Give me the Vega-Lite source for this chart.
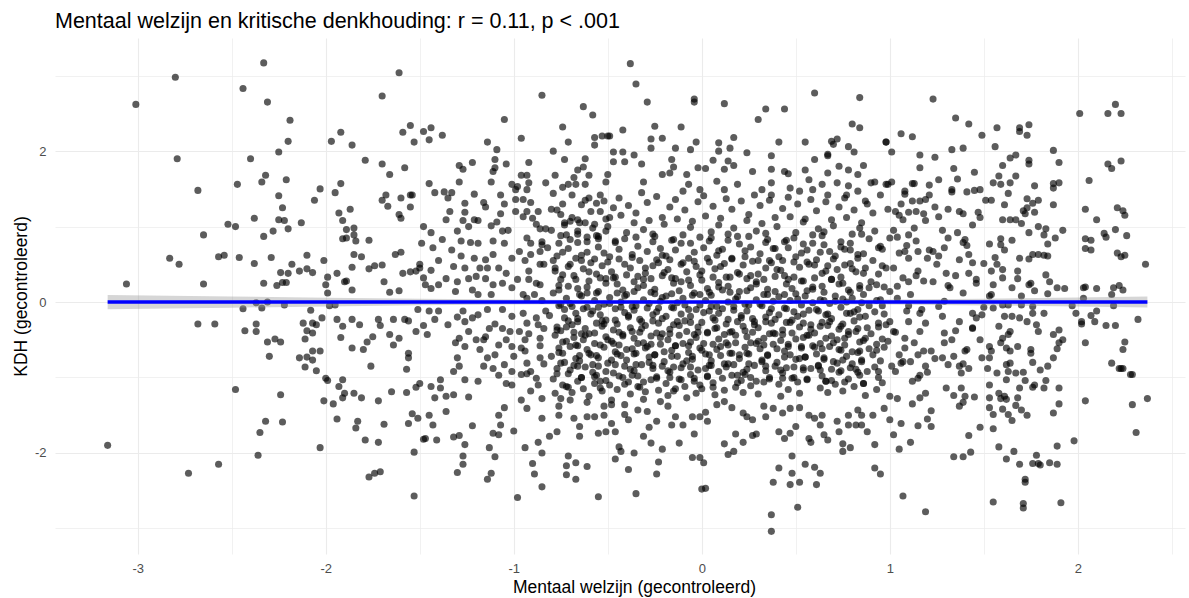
{
  "$schema": "https://vega.github.io/schema/vega-lite/v6.json",
  "description": "Mentaal welzijn vs kritische denkhouding",
  "width": 1130,
  "height": 516,
  "autosize": {"type": "none"},
  "padding": {"left": 55, "top": 38, "right": 4, "bottom": 44},
  "background": "white",
  "title": {
    "text": "Mentaal welzijn en kritische denkhouding: r = 0.11, p < .001",
    "anchor": "start",
    "frame": "group",
    "font": "Liberation Sans",
    "fontSize": 21.5,
    "fontWeight": "normal",
    "color": "black",
    "offset": 6
  },
  "config": {
    "view": {"stroke": null},
    "axis": {
      "domain": false,
      "ticks": false,
      "gridColor": "#EBEBEB",
      "labelFont": "Liberation Sans",
      "labelFontSize": 13,
      "labelColor": "#4D4D4D",
      "titleFont": "Liberation Sans",
      "titleFontSize": 17.5,
      "titleFontWeight": "normal",
      "titleColor": "black"
    }
  },
  "datasets": {
    "pts": [
      {"x":-2.33,"y":3.17},{"x":-2.80,"y":2.98},{"x":-3.01,"y":2.62},{"x":-2.44,"y":2.83},{"x":-2.31,"y":2.65},{"x":-2.19,"y":2.41},{"x":-2.20,"y":2.13},{"x":-1.97,"y":2.13},{"x":-1.92,"y":2.25},{"x":-2.25,"y":1.99},
      {"x":-2.79,"y":1.90},{"x":-2.40,"y":1.90},{"x":-2.32,"y":1.68},{"x":-2.34,"y":1.59},{"x":-2.21,"y":1.62},{"x":-2.47,"y":1.56},{"x":-2.68,"y":1.48},{"x":-2.03,"y":1.50},{"x":-1.95,"y":1.45},{"x":-1.92,"y":1.57},
      {"x":-2.06,"y":1.35},{"x":-2.25,"y":1.41},{"x":-2.23,"y":1.25},{"x":-2.25,"y":1.09},{"x":-2.22,"y":1.08},{"x":-2.38,"y":1.11},{"x":-2.13,"y":1.05},{"x":-2.52,"y":1.03},{"x":-2.48,"y":1.00},{"x":-2.20,"y":0.97},
      {"x":-2.28,"y":0.94},{"x":-2.33,"y":0.87},{"x":-2.65,"y":0.89},{"x":-1.93,"y":1.18},{"x":-1.91,"y":1.08},{"x":-1.91,"y":0.84},{"x":-2.83,"y":0.58},{"x":-2.78,"y":0.50},{"x":-2.57,"y":0.60},{"x":-2.54,"y":0.62},
      {"x":-2.46,"y":0.59},{"x":-2.38,"y":0.51},{"x":-2.29,"y":0.59},{"x":-2.18,"y":0.50},{"x":-2.10,"y":0.62},{"x":-2.01,"y":0.55},{"x":-2.14,"y":0.41},{"x":-2.10,"y":0.44},{"x":-2.07,"y":0.39},{"x":-2.24,"y":0.39},
      {"x":-2.20,"y":0.38},{"x":-2.23,"y":0.26},{"x":-2.26,"y":0.22},{"x":-2.21,"y":0.26},{"x":-2.33,"y":0.25},{"x":-2.65,"y":0.24},{"x":-3.06,"y":0.24},{"x":-1.99,"y":0.33},{"x":-2.00,"y":0.23},{"x":-1.94,"y":0.38},
      {"x":-1.99,"y":0.12},{"x":-2.37,"y":-0.01},{"x":-2.31,"y":0.00},{"x":-2.34,"y":-0.08},{"x":-2.44,"y":-0.09},{"x":-2.22,"y":-0.04},{"x":-1.98,"y":-0.05},{"x":-1.95,"y":-0.04},{"x":-2.08,"y":-0.11},{"x":-2.02,"y":-0.21},
      {"x":-1.94,"y":-0.23},{"x":-1.91,"y":-0.32},{"x":-1.92,"y":-0.47},{"x":-2.68,"y":-0.29},{"x":-2.59,"y":-0.29},{"x":-2.37,"y":-0.29},{"x":-2.37,"y":-0.39},{"x":-2.43,"y":-0.38},{"x":-2.12,"y":-0.28},{"x":-2.07,"y":-0.28},
      {"x":-2.05,"y":-0.30},{"x":-2.10,"y":-0.38},{"x":-2.07,"y":-0.41},{"x":-2.11,"y":-0.49},{"x":-2.31,"y":-0.53},{"x":-2.27,"y":-0.49},{"x":-2.24,"y":-0.53},{"x":-2.30,"y":-0.72},{"x":-2.07,"y":-0.65},{"x":-2.03,"y":-0.65},
      {"x":-2.14,"y":-0.74},{"x":-2.10,"y":-0.73},{"x":-2.07,"y":-0.77},{"x":-2.11,"y":-0.86},{"x":-2.05,"y":-0.91},{"x":-2.00,"y":-1.01},{"x":-1.99,"y":-1.04},{"x":-1.91,"y":-1.03},{"x":-1.93,"y":-1.12},{"x":-1.91,"y":-1.27},
      {"x":-2.01,"y":-1.31},{"x":-1.96,"y":-1.35},{"x":-2.48,"y":-1.16},{"x":-2.24,"y":-1.23},{"x":-1.94,"y":-1.55},{"x":-2.32,"y":-1.58},{"x":-2.23,"y":-1.59},{"x":-2.35,"y":-1.73},{"x":-2.03,"y":-1.93},{"x":-3.16,"y":-1.90},
      {"x":-2.36,"y":-2.03},{"x":-2.57,"y":-2.15},{"x":-2.73,"y":-2.27},{"x":-1.90,"y":0.27},

      {"x":-1.61,"y":3.04},{"x":-1.70,"y":2.73},{"x":-0.85,"y":2.74},{"x":-1.05,"y":2.42},{"x":-0.63,"y":2.59},{"x":-0.58,"y":2.48},{"x":-1.59,"y":2.25},{"x":-1.55,"y":2.34},{"x":-1.53,"y":2.12},{"x":-1.48,"y":2.26},
      {"x":-1.44,"y":2.31},{"x":-1.45,"y":2.15},{"x":-1.38,"y":2.21},{"x":-1.86,"y":2.08},{"x":-1.14,"y":2.12},{"x":-1.09,"y":2.02},{"x":-0.96,"y":2.17},{"x":-0.74,"y":2.32},{"x":-0.71,"y":2.12},{"x":-0.79,"y":2.00},
      {"x":-0.73,"y":1.89},{"x":-0.57,"y":2.18},{"x":-0.53,"y":2.20},{"x":-0.50,"y":2.20},{"x":-0.57,"y":2.08},{"x":-1.79,"y":1.88},{"x":-1.70,"y":1.83},{"x":-1.58,"y":1.78},{"x":-1.66,"y":1.69},{"x":-1.29,"y":1.81},
      {"x":-1.27,"y":1.76},{"x":-1.22,"y":1.85},{"x":-1.10,"y":1.89},{"x":-1.10,"y":1.78},{"x":-1.04,"y":1.83},{"x":-0.92,"y":1.85},{"x":-1.11,"y":1.73},{"x":-1.12,"y":1.59},{"x":-1.29,"y":1.59},{"x":-1.45,"y":1.57},
      {"x":-1.42,"y":1.45},{"x":-1.37,"y":1.46},{"x":-1.33,"y":1.45},{"x":-1.35,"y":1.38},{"x":-1.21,"y":1.43},{"x":-1.68,"y":1.42},{"x":-1.70,"y":1.35},{"x":-1.67,"y":1.27},{"x":-1.60,"y":1.38},{"x":-1.55,"y":1.42},
      {"x":-1.54,"y":1.42},{"x":-1.55,"y":1.26},{"x":-1.61,"y":1.16},{"x":-1.60,"y":1.11},{"x":-1.87,"y":1.23},{"x":-1.16,"y":1.32},{"x":-1.07,"y":1.42},{"x":-1.05,"y":1.30},{"x":-1.26,"y":1.31},{"x":-1.26,"y":1.19},
      {"x":-1.34,"y":1.20},{"x":-1.36,"y":1.09},{"x":-1.27,"y":1.08},{"x":-1.21,"y":1.09},{"x":-1.19,"y":1.08},{"x":-1.24,"y":1.00},{"x":-1.30,"y":0.94},{"x":-1.15,"y":1.26},{"x":-1.07,"y":1.17},{"x":-1.09,"y":1.06},
      {"x":-1.12,"y":1.01},{"x":-1.06,"y":0.94},{"x":-1.03,"y":0.95},{"x":-0.98,"y":1.53},{"x":-0.99,"y":1.49},{"x":-1.01,"y":1.56},{"x":-0.96,"y":1.68},{"x":-0.93,"y":1.68},{"x":-0.92,"y":1.58},{"x":-0.93,"y":1.49},
      {"x":-0.99,"y":1.36},{"x":-0.95,"y":1.36},{"x":-0.91,"y":1.32},{"x":-0.99,"y":1.20},{"x":-0.93,"y":1.20},{"x":-0.95,"y":1.13},{"x":-0.90,"y":1.11},{"x":-0.88,"y":1.03},{"x":-0.86,"y":0.97},{"x":-0.83,"y":0.97},
      {"x":-0.83,"y":1.58},{"x":-0.79,"y":1.44},{"x":-0.80,"y":1.23},{"x":-0.78,"y":1.68},{"x":-0.74,"y":1.52},{"x":-0.71,"y":1.56},{"x":-0.68,"y":1.65},{"x":-0.66,"y":1.75},{"x":-0.63,"y":1.79},{"x":-0.62,"y":1.90},
      {"x":-0.60,"y":1.68},{"x":-0.67,"y":1.56},{"x":-0.62,"y":1.56},{"x":-0.69,"y":1.42},{"x":-0.64,"y":1.29},{"x":-0.60,"y":1.38},{"x":-0.56,"y":1.31},{"x":-0.52,"y":1.34},{"x":-0.50,"y":1.69},{"x":-0.51,"y":1.59},
      {"x":-0.54,"y":1.20},{"x":-0.49,"y":1.12},{"x":-0.57,"y":1.03},{"x":-0.62,"y":1.05},{"x":-0.66,"y":1.09},{"x":-0.70,"y":1.07},{"x":-0.73,"y":1.05},{"x":-0.75,"y":1.16},{"x":-0.72,"y":0.89},{"x":-0.66,"y":0.94},
      {"x":-0.61,"y":0.86},{"x":-0.55,"y":0.87},{"x":-0.51,"y":0.94},{"x":-1.85,"y":0.98},{"x":-1.89,"y":0.96},{"x":-1.85,"y":0.89},{"x":-1.89,"y":0.85},{"x":-1.84,"y":0.81},{"x":-1.77,"y":0.82},{"x":-1.85,"y":0.63},
      {"x":-1.81,"y":0.60},{"x":-1.86,"y":0.46},{"x":-1.74,"y":0.48},{"x":-1.77,"y":0.44},{"x":-1.70,"y":0.49},{"x":-1.63,"y":0.63},{"x":-1.60,"y":0.66},{"x":-1.86,"y":0.16},{"x":-1.89,"y":0.28},{"x":-1.69,"y":0.27},
      {"x":-1.66,"y":0.13},{"x":-1.61,"y":0.15},{"x":-1.59,"y":0.38},{"x":-1.55,"y":0.40},{"x":-1.52,"y":0.41},{"x":-1.50,"y":0.45},{"x":-1.50,"y":0.50},{"x":-1.48,"y":0.32},{"x":-1.47,"y":0.23},{"x":-1.44,"y":0.42},
      {"x":-1.44,"y":0.18},{"x":-1.40,"y":0.23},{"x":-1.36,"y":0.31},{"x":-1.40,"y":0.55},{"x":-1.38,"y":0.83},{"x":-1.43,"y":0.72},{"x":-1.44,"y":0.92},{"x":-1.49,"y":0.78},{"x":-1.48,"y":1.00},{"x":-1.33,"y":0.69},
      {"x":-1.32,"y":0.47},{"x":-1.28,"y":0.81},{"x":-1.28,"y":0.61},{"x":-1.26,"y":0.45},{"x":-1.23,"y":0.79},{"x":-1.19,"y":0.78},{"x":-1.21,"y":0.58},{"x":-1.18,"y":0.45},{"x":-1.15,"y":0.56},{"x":-1.14,"y":0.45},
      {"x":-1.11,"y":0.63},{"x":-1.11,"y":0.81},{"x":-1.05,"y":0.78},{"x":-1.08,"y":0.45},{"x":-1.04,"y":0.38},{"x":-1.06,"y":0.25},{"x":-1.11,"y":0.23},{"x":-1.15,"y":0.31},{"x":-1.20,"y":0.34},{"x":-1.24,"y":0.31},
      {"x":-1.30,"y":0.27},{"x":-1.31,"y":0.14},{"x":-1.22,"y":0.16},{"x":-1.19,"y":0.10},{"x":-1.12,"y":0.10},{"x":-1.01,"y":0.58},{"x":-0.97,"y":0.67},{"x":-0.98,"y":0.30},{"x":-1.01,"y":0.19},{"x":-0.95,"y":0.10},
      {"x":-0.92,"y":0.41},{"x":-0.91,"y":0.63},{"x":-0.86,"y":0.67},{"x":-0.91,"y":0.78},{"x":-0.85,"y":0.76},{"x":-0.82,"y":0.72},{"x":-0.84,"y":0.50},{"x":-0.78,"y":0.45},{"x":-0.86,"y":0.23},{"x":-0.89,"y":0.10},
      {"x":-1.86,"y":-0.23},{"x":-1.82,"y":-0.30},{"x":-1.72,"y":-0.23},{"x":-1.71,"y":-0.31},{"x":-1.64,"y":-0.23},{"x":-1.58,"y":-0.23},{"x":-1.56,"y":-0.25},{"x":-1.52,"y":-0.39},{"x":-1.48,"y":-0.31},{"x":-1.46,"y":-0.43},
      {"x":-1.66,"y":-0.43},{"x":-1.75,"y":-0.46},{"x":-1.78,"y":-0.53},{"x":-1.64,"y":-0.57},{"x":-1.61,"y":-0.48},{"x":-1.80,"y":-0.63},{"x":-1.86,"y":-0.61},{"x":-1.56,"y":-0.68},{"x":-1.56,"y":-0.74},{"x":-1.76,"y":-0.85},
      {"x":-1.57,"y":-0.89},{"x":-1.90,"y":-1.21},{"x":-1.85,"y":-1.21},{"x":-1.81,"y":-1.27},{"x":-1.72,"y":-1.31},{"x":-1.65,"y":-1.19},{"x":-1.57,"y":-1.20},{"x":-1.52,"y":-1.13},{"x":-1.50,"y":-1.08},{"x":-1.44,"y":-1.12},
      {"x":-1.39,"y":-1.03},{"x":-1.39,"y":-1.14},{"x":-1.42,"y":-1.27},{"x":-1.36,"y":-1.25},{"x":-1.32,"y":-1.23},{"x":-1.24,"y":-1.26},{"x":-1.36,"y":-1.45},{"x":-1.54,"y":-1.48},{"x":-1.51,"y":-1.54},{"x":-1.56,"y":-1.61},
      {"x":-1.45,"y":-1.50},{"x":-1.43,"y":-1.63},{"x":-1.69,"y":-1.62},{"x":-1.83,"y":-1.58},{"x":-1.84,"y":-1.67},{"x":-1.79,"y":-1.83},{"x":-1.72,"y":-1.86},{"x":-1.48,"y":-1.82},{"x":-1.47,"y":-1.81},{"x":-1.41,"y":-1.83},
      {"x":-1.53,"y":-1.99},{"x":-1.32,"y":-1.79},{"x":-1.29,"y":-1.77},{"x":-1.26,"y":-1.89},{"x":-1.27,"y":-2.04},{"x":-1.27,"y":-2.15},{"x":-1.30,"y":-2.26},{"x":-1.22,"y":-1.64},{"x":-1.77,"y":-2.32},{"x":-1.74,"y":-2.27},
      {"x":-1.71,"y":-2.25},{"x":-1.53,"y":-2.57},{"x":-1.13,"y":-1.93},{"x":-1.10,"y":-2.05},{"x":-1.14,"y":-2.35},{"x":-1.12,"y":-2.27},{"x":-1.11,"y":-1.74},{"x":-1.08,"y":-1.76},{"x":-1.07,"y":-1.63},{"x":-1.00,"y":-1.71},
      {"x":-0.98,"y":-2.59},{"x":-0.94,"y":-1.93},{"x":-0.90,"y":-2.14},{"x":-0.89,"y":-2.28},{"x":-0.87,"y":-1.86},{"x":-0.85,"y":-2.00},{"x":-0.85,"y":-2.45},{"x":-0.81,"y":-1.78},{"x":-0.77,"y":-1.72},{"x":-0.71,"y":-2.04},
      {"x":-0.72,"y":-2.17},{"x":-0.72,"y":-2.29},{"x":-0.67,"y":-2.13},{"x":-0.67,"y":-2.35},{"x":-0.61,"y":-2.18},{"x":-0.55,"y":-2.58},{"x":-0.55,"y":-1.74},{"x":-0.65,"y":-1.78},{"x":-0.65,"y":-1.65},{"x":-0.61,"y":-1.52},
      {"x":-0.57,"y":-1.52},{"x":-0.52,"y":-1.50},{"x":-0.51,"y":-1.72},{"x":-0.93,"y":-1.41},{"x":-0.96,"y":-1.30},{"x":-1.05,"y":-1.40},{"x":-1.08,"y":-1.50},{"x":-0.85,"y":-1.54},{"x":-0.76,"y":-1.50},{"x":-0.76,"y":-1.38},
      {"x":-0.70,"y":-1.30},{"x":-0.68,"y":-1.54},{"x":-1.35,"y":-0.30},{"x":-1.30,"y":-0.20},{"x":-1.27,"y":-0.12},{"x":-1.26,"y":-0.26},{"x":-1.22,"y":-0.21},{"x":-1.24,"y":-0.39},{"x":-1.29,"y":-0.48},{"x":-1.31,"y":-0.54},
      {"x":-1.26,"y":-0.59},{"x":-1.20,"y":-0.50},{"x":-1.16,"y":-0.50},{"x":-1.18,"y":-0.63},{"x":-1.15,"y":-0.46},{"x":-1.13,"y":-0.35},{"x":-1.10,"y":-0.29},{"x":-1.06,"y":-0.35},{"x":-1.02,"y":-0.39},{"x":-1.04,"y":-0.50},
      {"x":-1.08,"y":-0.57},{"x":-1.10,"y":-0.70},{"x":-1.14,"y":-0.74},{"x":-1.16,"y":-0.85},{"x":-1.11,"y":-0.88},{"x":-1.05,"y":-0.83},{"x":-1.30,"y":-0.74},{"x":-1.29,"y":-0.85},{"x":-1.32,"y":-0.92},{"x":-1.26,"y":-1.03},
      {"x":-1.19,"y":-1.05},{"x":-1.08,"y":-0.97},{"x":-1.04,"y":-1.08},{"x":-1.01,"y":-1.10},{"x":-1.01,"y":-0.92},{"x":-1.00,"y":-0.72},{"x":-1.01,"y":-0.59},{"x":-0.96,"y":-0.61},{"x":-0.94,"y":-0.50},{"x":-0.97,"y":-0.39},
      {"x":-0.93,"y":-0.28},{"x":-1.01,"y":-0.19},{"x":-1.06,"y":-0.10},{"x":-1.14,"y":-0.10},{"x":-1.19,"y":-0.17},{"x":-1.40,"y":-0.12},{"x":-1.45,"y":-0.12},{"x":-1.51,"y":-0.10},{"x":-1.42,"y":-0.23},{"x":-0.93,"y":-0.81},
      {"x":-0.91,"y":-0.92},{"x":-0.88,"y":-1.01},{"x":-0.96,"y":-0.96},{"x":-0.86,"y":-0.74},{"x":-0.86,"y":-0.48},{"x":-0.84,"y":-0.35},{"x":-0.88,"y":-0.21},{"x":-0.83,"y":-0.12},

      {"x":-0.38,"y":3.16},{"x":-0.35,"y":2.89},{"x":-0.29,"y":2.65},{"x":-0.04,"y":2.65},{"x":-0.04,"y":2.69},{"x":0.12,"y":2.63},{"x":0.34,"y":2.56},{"x":0.44,"y":2.56},{"x":0.30,"y":2.42},{"x":0.60,"y":2.77},
      {"x":0.84,"y":2.71},{"x":0.80,"y":2.36},{"x":0.84,"y":2.31},{"x":-0.42,"y":2.28},{"x":-0.25,"y":2.33},{"x":-0.11,"y":2.32},{"x":-0.27,"y":2.16},{"x":-0.21,"y":2.17},{"x":-0.27,"y":2.04},{"x":-0.14,"y":2.04},
      {"x":-0.06,"y":2.02},{"x":-0.03,"y":2.12},{"x":0.09,"y":2.11},{"x":0.15,"y":2.04},{"x":0.17,"y":2.18},{"x":0.09,"y":2.00},{"x":0.24,"y":1.98},{"x":0.41,"y":2.12},{"x":0.37,"y":1.94},{"x":0.55,"y":2.12},
      {"x":0.69,"y":2.13},{"x":0.72,"y":2.16},{"x":0.70,"y":2.09},{"x":0.78,"y":2.06},{"x":0.81,"y":1.99},{"x":0.67,"y":1.94},{"x":0.98,"y":2.12},{"x":-0.49,"y":2.20},{"x":-0.47,"y":1.99},{"x":-0.42,"y":1.99},
      {"x":-0.36,"y":1.95},{"x":-0.47,"y":1.86},{"x":-0.41,"y":1.86},{"x":-0.32,"y":1.83},{"x":-0.16,"y":1.89},{"x":-0.15,"y":1.79},{"x":-0.02,"y":1.78},{"x":0.02,"y":1.77},{"x":0.06,"y":1.88},{"x":0.12,"y":1.76},
      {"x":0.14,"y":1.87},{"x":0.17,"y":1.81},{"x":0.27,"y":1.73},{"x":0.37,"y":1.76},{"x":0.44,"y":1.73},{"x":0.46,"y":1.70},{"x":0.55,"y":1.75},{"x":0.60,"y":1.89},{"x":0.67,"y":1.96},{"x":0.67,"y":1.71},
      {"x":0.73,"y":1.80},{"x":0.78,"y":1.75},{"x":0.83,"y":1.69},{"x":0.86,"y":1.81},{"x":0.90,"y":1.58},{"x":0.92,"y":1.59},{"x":0.98,"y":1.56},{"x":-0.31,"y":1.59},{"x":-0.21,"y":1.69},{"x":-0.17,"y":1.71},
      {"x":-0.08,"y":1.69},{"x":-0.07,"y":1.56},{"x":-0.10,"y":1.47},{"x":-0.01,"y":1.49},{"x":0.08,"y":1.60},{"x":0.12,"y":1.49},{"x":0.19,"y":1.56},{"x":0.32,"y":1.49},{"x":0.37,"y":1.58},{"x":0.37,"y":1.42},
      {"x":0.47,"y":1.51},{"x":0.52,"y":1.47},{"x":0.57,"y":1.62},{"x":0.59,"y":1.49},{"x":0.64,"y":1.56},{"x":0.67,"y":1.42},{"x":0.72,"y":1.58},{"x":0.77,"y":1.42},{"x":0.78,"y":1.54},{"x":0.83,"y":1.47},
      {"x":0.87,"y":1.34},{"x":0.95,"y":1.42},
      {"x":-0.35,"y":-2.54},{"x":-0.39,"y":-2.22},{"x":-0.24,"y":-2.28},{"x":-0.23,"y":-2.12},{"x":-0.21,"y":-1.95},{"x":-0.36,"y":-2.00},{"x":-0.43,"y":-1.98},{"x":-0.46,"y":-2.08},{"x":-0.44,"y":-1.92},{"x":-0.27,"y":-1.87},
      {"x":-0.31,"y":-1.78},{"x":-0.12,"y":-1.87},{"x":-0.05,"y":-2.06},{"x":-0.01,"y":-2.06},{"x":0.01,"y":-2.13},{"x":0.00,"y":-2.48},{"x":0.02,"y":-2.47},{"x":0.12,"y":-1.88},{"x":0.14,"y":-2.02},{"x":0.17,"y":-1.98},
      {"x":0.18,"y":-1.75},{"x":0.22,"y":-1.86},{"x":0.27,"y":-1.77},{"x":0.29,"y":-1.75},{"x":0.38,"y":-2.39},{"x":0.41,"y":-2.20},{"x":0.48,"y":-2.04},{"x":0.48,"y":-2.27},{"x":0.47,"y":-2.42},{"x":0.52,"y":-2.39},
      {"x":0.37,"y":-2.82},{"x":0.37,"y":-3.04},{"x":0.51,"y":-2.72},{"x":0.55,"y":-2.15},{"x":0.60,"y":-2.19},{"x":0.63,"y":-2.27},{"x":0.61,"y":-2.42},{"x":0.41,"y":-1.72},{"x":0.44,"y":-1.81},{"x":0.47,"y":-1.74},
      {"x":0.50,"y":-1.65},{"x":0.57,"y":-1.81},{"x":0.58,"y":-1.86},{"x":0.65,"y":-1.76},{"x":0.67,"y":-1.83},{"x":0.75,"y":-1.98},{"x":0.79,"y":-1.93},{"x":0.75,"y":-1.88},{"x":0.92,"y":-2.20},{"x":0.95,"y":-2.28},
      {"x":0.92,"y":-1.89},{"x":0.85,"y":-1.63},{"x":0.88,"y":-1.72},{"x":0.78,"y":-1.63},{"x":0.82,"y":-1.63},{"x":0.73,"y":-1.72},{"x":0.63,"y":-1.63},{"x":-0.14,"y":-1.52},{"x":-0.04,"y":-1.75},{"x":0.03,"y":-1.58},
      {"x":-0.10,"y":-1.63},{"x":-0.16,"y":-1.63},{"x":-0.24,"y":-1.58},{"x":-0.28,"y":-1.66},{"x":-0.34,"y":-1.43},{"x":-0.39,"y":-1.56},{"x":-0.41,"y":-1.49},{"x":-0.48,"y":-1.61},{"x":-0.46,"y":-1.72},{"x":-0.48,"y":-1.36},
      {"x":-0.41,"y":-1.36},{"x":-0.29,"y":-1.45},{"x":-0.18,"y":-1.38},{"x":-0.05,"y":-1.52},{"x":-0.01,"y":-1.52},{"x":0.02,"y":-1.46},{"x":0.08,"y":-1.36},{"x":0.12,"y":-1.32},{"x":0.16,"y":-1.40},{"x":0.22,"y":-1.47},
      {"x":0.24,"y":-1.52},{"x":0.27,"y":-1.56},{"x":0.34,"y":-1.52},{"x":0.33,"y":-1.38},{"x":0.38,"y":-1.41},{"x":0.43,"y":-1.47},{"x":0.47,"y":-1.41},{"x":0.52,"y":-1.40},{"x":0.57,"y":-1.50},{"x":0.60,"y":-1.54},
      {"x":0.64,"y":-1.50},{"x":0.72,"y":-1.58},{"x":0.78,"y":-1.50},{"x":0.83,"y":-1.43},{"x":0.85,"y":-1.50},{"x":0.91,"y":-1.50},{"x":0.97,"y":-1.41},

      {"x":1.23,"y":2.69},{"x":1.35,"y":2.44},{"x":1.42,"y":2.36},{"x":1.06,"y":2.23},{"x":1.12,"y":2.19},{"x":0.98,"y":2.12},{"x":1.01,"y":1.99},{"x":1.49,"y":2.21},{"x":1.57,"y":2.31},{"x":1.69,"y":2.31},
      {"x":1.69,"y":2.26},{"x":1.74,"y":2.35},{"x":1.73,"y":2.21},{"x":2.01,"y":2.50},{"x":2.16,"y":2.50},{"x":2.20,"y":2.62},{"x":2.23,"y":2.50},{"x":1.56,"y":2.06},{"x":1.33,"y":2.02},{"x":1.39,"y":2.04},
      {"x":1.16,"y":1.95},{"x":1.24,"y":1.92},{"x":1.16,"y":1.78},{"x":1.34,"y":1.77},{"x":1.45,"y":1.72},{"x":1.36,"y":1.63},{"x":1.26,"y":1.62},{"x":1.21,"y":1.55},{"x":1.12,"y":1.57},{"x":1.13,"y":1.57},
      {"x":1.08,"y":1.47},{"x":1.08,"y":1.43},{"x":0.99,"y":1.56},{"x":1.01,"y":1.59},{"x":1.33,"y":1.49},{"x":1.33,"y":1.46},{"x":1.41,"y":1.46},{"x":1.45,"y":1.48},{"x":1.48,"y":1.49},{"x":1.55,"y":1.58},
      {"x":1.59,"y":1.56},{"x":1.58,"y":1.67},{"x":1.60,"y":1.81},{"x":1.64,"y":1.91},{"x":1.67,"y":1.95},{"x":1.64,"y":1.58},{"x":1.67,"y":1.67},{"x":1.63,"y":1.44},{"x":1.74,"y":1.88},{"x":1.74,"y":1.83},
      {"x":1.77,"y":1.54},{"x":1.87,"y":2.01},{"x":1.90,"y":1.85},{"x":1.87,"y":1.57},{"x":1.90,"y":1.58},{"x":1.87,"y":1.51},{"x":1.87,"y":1.29},{"x":2.06,"y":1.61},{"x":2.16,"y":1.83},{"x":2.18,"y":1.77},
      {"x":2.23,"y":1.87},{"x":1.51,"y":1.35},{"x":1.54,"y":1.35},{"x":1.61,"y":1.29},{"x":1.73,"y":1.37},{"x":1.73,"y":1.25},{"x":1.76,"y":1.31},{"x":1.79,"y":1.35},{"x":1.77,"y":1.19},{"x":1.71,"y":1.21},
      {"x":1.72,"y":1.17},{"x":2.04,"y":1.23},{"x":2.10,"y":1.09},{"x":2.21,"y":1.25},{"x":2.24,"y":1.21},{"x":2.25,"y":1.15},{"x":1.31,"y":1.23},{"x":1.37,"y":1.20},{"x":1.39,"y":1.17},{"x":1.47,"y":1.19},
      {"x":1.48,"y":1.12},{"x":1.44,"y":1.02},{"x":1.26,"y":1.13},{"x":1.24,"y":1.26},{"x":1.21,"y":1.42},{"x":1.19,"y":1.36},{"x":1.16,"y":1.34},{"x":1.12,"y":1.34},{"x":1.14,"y":1.20},{"x":1.18,"y":1.17},
      {"x":1.19,"y":1.08},{"x":1.10,"y":1.19},{"x":1.07,"y":1.09},{"x":1.05,"y":1.15},{"x":1.03,"y":1.20},{"x":0.99,"y":1.23},{"x":1.60,"y":1.09},{"x":1.64,"y":1.09},{"x":1.67,"y":1.09},{"x":1.70,"y":1.04},
      {"x":1.65,"y":0.82},{"x":1.59,"y":0.84},{"x":1.59,"y":0.76},{"x":1.61,"y":0.69},{"x":1.53,"y":0.77},{"x":1.74,"y":0.92},{"x":1.79,"y":1.00},{"x":1.83,"y":0.97},{"x":1.82,"y":0.89},{"x":1.84,"y":0.77},
      {"x":1.88,"y":0.85},{"x":1.92,"y":0.95},{"x":1.79,"y":0.63},{"x":1.76,"y":0.63},{"x":1.74,"y":0.57},{"x":1.69,"y":0.58},{"x":1.82,"y":0.62},{"x":1.84,"y":0.61},{"x":2.04,"y":0.84},{"x":2.04,"y":0.71},
      {"x":2.07,"y":0.69},{"x":2.07,"y":0.82},{"x":2.14,"y":0.91},{"x":2.15,"y":0.86},{"x":2.20,"y":0.96},{"x":2.26,"y":0.88},{"x":2.21,"y":0.65},{"x":2.23,"y":0.60},{"x":2.25,"y":0.62},{"x":2.36,"y":0.50},
      {"x":1.28,"y":0.95},{"x":1.31,"y":0.85},{"x":1.36,"y":0.92},{"x":1.40,"y":0.83},{"x":1.41,"y":0.75},{"x":1.39,"y":0.79},{"x":1.29,"y":0.72},{"x":1.23,"y":0.67},{"x":1.26,"y":0.61},{"x":1.20,"y":0.58},
      {"x":1.21,"y":0.69},{"x":1.15,"y":0.67},{"x":1.14,"y":0.81},{"x":1.10,"y":0.89},{"x":1.04,"y":0.86},{"x":1.00,"y":0.85},{"x":1.08,"y":0.67},{"x":1.05,"y":0.65},{"x":1.10,"y":0.58},{"x":1.37,"y":0.56},
      {"x":1.42,"y":0.63},{"x":1.44,"y":0.52},{"x":1.42,"y":0.38},{"x":1.35,"y":0.35},{"x":1.30,"y":0.38},{"x":1.25,"y":0.50},{"x":1.50,"y":0.51},{"x":1.56,"y":0.59},{"x":1.57,"y":0.50},{"x":1.60,"y":0.43},
      {"x":1.54,"y":0.41},{"x":1.60,"y":0.32},{"x":1.55,"y":0.23},{"x":1.54,"y":0.10},{"x":1.46,"y":0.25},{"x":1.46,"y":0.30},{"x":1.39,"y":0.12},{"x":1.31,"y":0.22},{"x":1.32,"y":0.19},{"x":1.29,"y":0.01},
      {"x":1.23,"y":0.27},{"x":1.18,"y":0.28},{"x":1.15,"y":0.41},{"x":1.10,"y":0.27},{"x":1.07,"y":0.32},{"x":1.04,"y":0.21},{"x":1.00,"y":0.14},{"x":1.65,"y":0.19},{"x":1.68,"y":0.31},{"x":1.68,"y":0.41},
      {"x":1.74,"y":0.23},{"x":1.75,"y":0.25},{"x":1.77,"y":0.15},{"x":1.83,"y":0.36},{"x":1.85,"y":0.27},{"x":1.89,"y":0.19},{"x":1.93,"y":0.18},{"x":1.84,"y":0.11},{"x":1.70,"y":0.08},{"x":2.03,"y":0.19},
      {"x":2.04,"y":0.20},{"x":2.10,"y":0.18},{"x":2.19,"y":0.19},{"x":2.22,"y":0.22},{"x":2.24,"y":0.16},{"x":2.18,"y":0.10},{"x":2.03,"y":0.05},{"x":1.97,"y":-0.05},{"x":1.99,"y":-0.15},{"x":2.02,"y":-0.26},
      {"x":2.02,"y":-0.29},{"x":2.07,"y":-0.18},{"x":2.10,"y":-0.12},{"x":2.09,"y":-0.26},{"x":2.15,"y":-0.31},{"x":2.20,"y":-0.31},{"x":2.19,"y":-0.05},{"x":2.32,"y":-0.23},{"x":2.04,"y":-0.54},{"x":2.25,"y":-0.53},
      {"x":2.24,"y":-0.63},{"x":2.18,"y":-0.81},{"x":2.22,"y":-0.88},{"x":2.23,"y":-0.88},{"x":2.24,"y":-0.88},{"x":2.28,"y":-0.96},{"x":2.29,"y":-0.96},{"x":2.04,"y":-1.31},{"x":2.29,"y":-1.36},{"x":2.37,"y":-1.28},
      {"x":2.31,"y":-1.73},{"x":1.98,"y":-1.84},{"x":1.89,"y":-1.91},{"x":1.91,"y":-2.66},{"x":1.90,"y":-1.14},{"x":1.90,"y":-1.35},{"x":1.87,"y":-1.47},{"x":1.83,"y":-1.04},{"x":1.82,"y":-1.14},{"x":1.77,"y":-1.10},
      {"x":1.76,"y":-1.13},{"x":1.69,"y":-1.14},{"x":1.72,"y":-1.04},{"x":1.71,"y":-0.93},{"x":1.76,"y":-0.80},{"x":1.80,"y":-0.90},{"x":1.84,"y":-0.85},{"x":1.87,"y":-0.74},{"x":1.89,"y":-0.62},{"x":1.90,"y":-0.54},
      {"x":1.92,"y":-0.50},{"x":1.87,"y":-0.43},{"x":1.90,"y":-0.37},{"x":1.75,"y":-0.63},{"x":1.75,"y":-0.68},{"x":1.68,"y":-0.59},{"x":1.64,"y":-0.65},{"x":1.62,"y":-0.61},{"x":1.64,"y":-0.39},{"x":1.63,"y":-0.43},
      {"x":1.60,"y":-0.48},{"x":1.59,"y":-0.54},{"x":1.58,"y":-0.32},{"x":1.61,"y":-0.19},{"x":1.65,"y":-0.19},{"x":1.69,"y":-0.21},{"x":1.73,"y":-0.26},{"x":1.76,"y":-0.15},{"x":1.78,"y":-0.30},{"x":1.79,"y":-0.39},
      {"x":1.82,"y":-0.15},{"x":1.76,"y":-0.06},{"x":1.70,"y":-0.04},{"x":1.63,"y":-0.04},{"x":1.60,"y":-0.04},{"x":1.53,"y":0.08},{"x":1.55,"y":-0.08},{"x":1.50,"y":-0.07},{"x":1.49,"y":-0.17},{"x":1.44,"y":-0.15},
      {"x":1.46,"y":-0.21},{"x":1.44,"y":-0.35},{"x":1.48,"y":-0.50},{"x":1.53,"y":-0.59},{"x":1.54,"y":-0.65},{"x":1.49,"y":-0.74},{"x":1.53,"y":-0.74},{"x":1.62,"y":-0.83},{"x":1.64,"y":-0.81},{"x":1.63,"y":-0.92},
      {"x":1.67,"y":-0.94},{"x":1.62,"y":-1.03},{"x":1.57,"y":-0.94},{"x":1.52,"y":-0.88},{"x":1.53,"y":-1.10},{"x":1.58,"y":-1.21},{"x":1.59,"y":-1.28},{"x":1.61,"y":-1.25},{"x":1.62,"y":-1.29},{"x":1.53,"y":-1.27},
      {"x":1.53,"y":-1.40},{"x":1.55,"y":-1.49},{"x":1.60,"y":-1.42},{"x":1.63,"y":-1.49},{"x":1.65,"y":-1.57},{"x":1.67,"y":-1.37},{"x":1.68,"y":-1.27},{"x":1.70,"y":-1.43},{"x":1.73,"y":-1.50},{"x":1.55,"y":-1.68},
      {"x":1.48,"y":-1.66},{"x":1.42,"y":-1.77},{"x":1.43,"y":-1.99},{"x":1.39,"y":-2.05},{"x":1.34,"y":-2.05},{"x":1.58,"y":-1.92},{"x":1.66,"y":-1.98},{"x":1.62,"y":-2.08},{"x":1.69,"y":-2.15},{"x":1.78,"y":-2.03},
      {"x":1.76,"y":-2.14},{"x":1.79,"y":-2.14},{"x":1.80,"y":-2.16},{"x":1.85,"y":-2.13},{"x":1.89,"y":-2.15},{"x":1.72,"y":-2.35},{"x":1.72,"y":-2.39},{"x":1.71,"y":-2.67},{"x":1.71,"y":-2.73},{"x":1.55,"y":-2.65},
      {"x":1.07,"y":-2.57},{"x":1.19,"y":-2.78},{"x":1.05,"y":-1.95},{"x":1.11,"y":-1.86},{"x":1.02,"y":-1.76},{"x":1.06,"y":-1.61},{"x":1.15,"y":-1.64},{"x":1.22,"y":-1.65},{"x":1.20,"y":-1.55},{"x":1.22,"y":-1.44},
      {"x":1.19,"y":-1.21},{"x":1.16,"y":-1.27},{"x":1.12,"y":-1.35},{"x":1.04,"y":-1.28},{"x":1.00,"y":-1.25},{"x":1.00,"y":-1.56},{"x":1.30,"y":-1.14},{"x":1.34,"y":-1.24},{"x":1.38,"y":-1.14},{"x":1.40,"y":-1.25},
      {"x":1.37,"y":-1.38},{"x":1.45,"y":-1.26},{"x":1.37,"y":-0.85},{"x":1.39,"y":-0.82},{"x":1.42,"y":-0.88},{"x":1.38,"y":-0.94},{"x":1.34,"y":-0.72},{"x":1.31,"y":-0.83},{"x":1.28,"y":-0.74},{"x":1.24,"y":-0.75},
      {"x":1.19,"y":-0.85},{"x":1.20,"y":-0.93},{"x":1.15,"y":-1.01},{"x":1.16,"y":-0.97},{"x":1.07,"y":-0.79},{"x":1.06,"y":-0.81},{"x":1.03,"y":-0.92},{"x":1.01,"y":-0.85},{"x":1.11,"y":-0.79},{"x":1.18,"y":-0.65},
      {"x":1.22,"y":-0.65},{"x":1.29,"y":-0.54},{"x":1.33,"y":-0.50},{"x":1.35,"y":-0.38},{"x":1.29,"y":-0.41},{"x":1.37,"y":-0.26},{"x":1.44,"y":-0.34},{"x":1.28,"y":-0.19},{"x":1.26,"y":-0.06},{"x":1.16,"y":-0.15},
      {"x":1.19,"y":-0.28},{"x":1.16,"y":-0.39},{"x":1.13,"y":-0.54},{"x":1.08,"y":-0.61},{"x":1.10,"y":-0.26},{"x":1.09,"y":-0.12},{"x":1.00,"y":-0.26},{"x":1.02,"y":-0.39},{"x":0.99,"y":-0.52},{"x":1.41,"y":-0.63},
      {"x":1.40,"y":-0.65},{"x":1.39,"y":-1.33},
      {"x":1.02,"y":0.45},{"x":1.04,"y":0.05},{"x":1.03,"y":-0.40},{"x":1.05,"y":-0.70},{"x":1.02,"y":0.95},{"x":1.09,"y":0.75},{"x":1.11,"y":0.10},{"x":1.10,"y":-0.05},{"x":1.08,"y":-0.48},{"x":1.12,"y":-1.05},
      {"x":1.06,"y":1.30},{"x":1.14,"y":0.35},{"x":1.17,"y":-0.10},{"x":1.15,"y":-0.70},{"x":1.13,"y":0.98},

      {"x":-0.94,"y":0.55},{"x":-0.92,"y":0.30},{"x":-0.93,"y":0.05},{"x":-0.95,"y":-0.15},{"x":-0.92,"y":-0.42},{"x":-0.94,"y":-0.65},{"x":-0.93,"y":-0.95},{"x":-0.91,"y":-1.18},{"x":-0.93,"y":0.85},
      {"x":-0.87,"y":1.20},{"x":-0.85,"y":0.80},{"x":-0.86,"y":0.50},{"x":-0.88,"y":0.25},{"x":-0.85,"y":0.02},{"x":-0.87,"y":-0.30},{"x":-0.86,"y":-0.58},{"x":-0.84,"y":-0.82},{"x":-0.87,"y":-1.10},{"x":-0.85,"y":-1.28},
      {"x":-0.77,"y":1.22},{"x":-0.80,"y":0.95},{"x":-0.76,"y":0.78},{"x":-0.79,"y":0.55},{"x":-0.78,"y":0.41},{"x":-0.75,"y":0.30},{"x":-0.79,"y":0.12},{"x":-0.76,"y":-0.05},{"x":-0.81,"y":-0.18},{"x":-0.77,"y":-0.33},{"x":-0.78,"y":-0.44},{"x":-0.76,"y":-0.61},{"x":-0.80,"y":-0.72},{"x":-0.77,"y":-0.88},{"x":-0.79,"y":-1.02},{"x":-0.78,"y":-1.21},
      {"x":-0.74,"y":1.30},{"x":-0.73,"y":1.02},{"x":-0.70,"y":0.83},{"x":-0.74,"y":0.66},{"x":-0.71,"y":0.47},{"x":-0.76,"y":0.22},{"x":-0.72,"y":0.05},{"x":-0.73,"y":-0.10},{"x":-0.71,"y":-0.25},{"x":-0.75,"y":-0.38},{"x":-0.72,"y":-0.52},{"x":-0.74,"y":-0.68},{"x":-0.73,"y":-0.80},{"x":-0.71,"y":-0.95},{"x":-0.72,"y":-1.12},{"x":-0.75,"y":-1.28},
      {"x":-0.69,"y":1.12},{"x":-0.66,"y":0.90},{"x":-0.71,"y":0.71},{"x":-0.67,"y":0.58},{"x":-0.68,"y":0.35},{"x":-0.66,"y":0.18},{"x":-0.70,"y":-0.02},{"x":-0.67,"y":-0.15},{"x":-0.69,"y":-0.30},{"x":-0.68,"y":-0.47},{"x":-0.66,"y":-0.58},{"x":-0.67,"y":-0.75},{"x":-0.70,"y":-0.90},{"x":-0.66,"y":-1.05},{"x":-0.69,"y":-1.20},{"x":-0.68,"y":-0.40},
      {"x":-0.62,"y":1.35},{"x":-0.65,"y":1.05},{"x":-0.61,"y":0.80},{"x":-0.64,"y":0.62},{"x":-0.63,"y":0.44},{"x":-0.60,"y":0.28},{"x":-0.64,"y":0.08},{"x":-0.61,"y":-0.07},{"x":-0.66,"y":-0.22},{"x":-0.62,"y":-0.35},{"x":-0.63,"y":-0.50},{"x":-0.61,"y":-0.63},{"x":-0.65,"y":-0.78},{"x":-0.62,"y":-0.86},{"x":-0.64,"y":-1.00},{"x":-0.63,"y":-1.15},{"x":-0.61,"y":-1.33},
      {"x":-0.59,"y":1.20},{"x":-0.58,"y":0.98},{"x":-0.55,"y":0.73},{"x":-0.59,"y":0.52},{"x":-0.56,"y":0.37},{"x":-0.61,"y":0.20},{"x":-0.57,"y":0.02},{"x":-0.58,"y":-0.12},{"x":-0.56,"y":-0.28},{"x":-0.60,"y":-0.42},{"x":-0.57,"y":-0.55},{"x":-0.59,"y":-0.70},{"x":-0.58,"y":-0.83},{"x":-0.56,"y":-0.97},{"x":-0.57,"y":-1.08},{"x":-0.60,"y":-1.25},
      {"x":-0.54,"y":1.42},{"x":-0.51,"y":1.10},{"x":-0.56,"y":0.88},{"x":-0.52,"y":0.65},{"x":-0.53,"y":0.48},{"x":-0.51,"y":0.31},{"x":-0.55,"y":0.14},{"x":-0.52,"y":-0.03},{"x":-0.54,"y":-0.17},{"x":-0.53,"y":-0.32},{"x":-0.51,"y":-0.46},{"x":-0.52,"y":-0.60},{"x":-0.55,"y":-0.74},{"x":-0.51,"y":-0.92},{"x":-0.54,"y":-1.05},{"x":-0.53,"y":-1.18},{"x":-0.52,"y":-1.38},
      {"x":-0.47,"y":1.25},{"x":-0.50,"y":1.00},{"x":-0.46,"y":0.79},{"x":-0.49,"y":0.60},{"x":-0.48,"y":0.40},{"x":-0.45,"y":0.24},{"x":-0.49,"y":0.06},{"x":-0.46,"y":-0.09},{"x":-0.51,"y":-0.24},{"x":-0.47,"y":-0.37},{"x":-0.48,"y":-0.52},{"x":-0.46,"y":-0.66},{"x":-0.50,"y":-0.81},{"x":-0.47,"y":-0.94},{"x":-0.49,"y":-1.10},{"x":-0.48,"y":-1.30},
      {"x":-0.44,"y":1.38},{"x":-0.43,"y":1.15},{"x":-0.40,"y":0.92},{"x":-0.44,"y":0.70},{"x":-0.41,"y":0.50},{"x":-0.46,"y":0.33},{"x":-0.42,"y":0.16},{"x":-0.43,"y":0.00},{"x":-0.41,"y":-0.14},{"x":-0.45,"y":-0.29},{"x":-0.42,"y":-0.43},{"x":-0.44,"y":-0.57},{"x":-0.43,"y":-0.71},{"x":-0.41,"y":-0.85},{"x":-0.42,"y":-1.00},{"x":-0.45,"y":-1.16},
      {"x":-0.39,"y":1.28},{"x":-0.36,"y":1.05},{"x":-0.41,"y":0.84},{"x":-0.37,"y":0.63},{"x":-0.38,"y":0.45},{"x":-0.36,"y":0.27},{"x":-0.40,"y":0.10},{"x":-0.37,"y":-0.06},{"x":-0.39,"y":-0.20},{"x":-0.38,"y":-0.34},{"x":-0.36,"y":-0.48},{"x":-0.37,"y":-0.62},{"x":-0.40,"y":-0.77},{"x":-0.36,"y":-0.91},{"x":-0.39,"y":-1.06},{"x":-0.38,"y":-1.22},
      {"x":-0.32,"y":1.45},{"x":-0.35,"y":1.18},{"x":-0.31,"y":0.96},{"x":-0.34,"y":0.74},{"x":-0.33,"y":0.55},{"x":-0.30,"y":0.38},{"x":-0.34,"y":0.19},{"x":-0.31,"y":0.03},{"x":-0.36,"y":-0.11},{"x":-0.32,"y":-0.26},{"x":-0.33,"y":-0.40},{"x":-0.31,"y":-0.54},{"x":-0.35,"y":-0.68},{"x":-0.32,"y":-0.83},{"x":-0.34,"y":-0.98},{"x":-0.33,"y":-1.13},{"x":-0.31,"y":-1.29},
      {"x":-0.29,"y":1.32},{"x":-0.28,"y":1.08},{"x":-0.25,"y":0.87},{"x":-0.29,"y":0.67},{"x":-0.26,"y":0.48},{"x":-0.31,"y":0.30},{"x":-0.27,"y":0.13},{"x":-0.28,"y":-0.02},{"x":-0.26,"y":-0.17},{"x":-0.30,"y":-0.31},{"x":-0.27,"y":-0.45},{"x":-0.29,"y":-0.59},{"x":-0.28,"y":-0.73},{"x":-0.26,"y":-0.88},{"x":-0.27,"y":-1.03},{"x":-0.30,"y":-1.19},
      {"x":-0.24,"y":1.40},{"x":-0.21,"y":1.12},{"x":-0.26,"y":0.90},{"x":-0.22,"y":0.71},{"x":-0.23,"y":0.52},{"x":-0.21,"y":0.35},{"x":-0.25,"y":0.17},{"x":-0.22,"y":0.01},{"x":-0.24,"y":-0.13},{"x":-0.23,"y":-0.28},{"x":-0.21,"y":-0.42},{"x":-0.22,"y":-0.56},{"x":-0.25,"y":-0.70},{"x":-0.21,"y":-0.85},{"x":-0.24,"y":-1.01},{"x":-0.23,"y":-1.17},{"x":-0.22,"y":-1.32},
      {"x":-0.17,"y":1.26},{"x":-0.20,"y":1.03},{"x":-0.16,"y":0.82},{"x":-0.19,"y":0.61},{"x":-0.18,"y":0.43},{"x":-0.15,"y":0.25},{"x":-0.19,"y":0.08},{"x":-0.16,"y":-0.07},{"x":-0.21,"y":-0.22},{"x":-0.17,"y":-0.36},{"x":-0.18,"y":-0.50},{"x":-0.16,"y":-0.64},{"x":-0.20,"y":-0.79},{"x":-0.17,"y":-0.93},{"x":-0.19,"y":-1.08},{"x":-0.18,"y":-1.24},
      {"x":-0.14,"y":1.36},{"x":-0.13,"y":1.10},{"x":-0.10,"y":0.89},{"x":-0.14,"y":0.69},{"x":-0.11,"y":0.50},{"x":-0.16,"y":0.32},{"x":-0.12,"y":0.15},{"x":-0.13,"y":-0.01},{"x":-0.11,"y":-0.16},{"x":-0.15,"y":-0.30},{"x":-0.12,"y":-0.44},{"x":-0.14,"y":-0.58},{"x":-0.13,"y":-0.72},{"x":-0.11,"y":-0.87},{"x":-0.12,"y":-1.02},{"x":-0.15,"y":-1.18},
      {"x":-0.09,"y":1.22},{"x":-0.06,"y":0.99},{"x":-0.11,"y":0.78},{"x":-0.07,"y":0.58},{"x":-0.08,"y":0.40},{"x":-0.06,"y":0.22},{"x":-0.10,"y":0.05},{"x":-0.07,"y":-0.10},{"x":-0.09,"y":-0.25},{"x":-0.08,"y":-0.39},{"x":-0.06,"y":-0.53},{"x":-0.07,"y":-0.67},{"x":-0.10,"y":-0.82},{"x":-0.06,"y":-0.96},{"x":-0.09,"y":-1.12},{"x":-0.08,"y":-1.27},
      {"x":-0.02,"y":1.33},{"x":-0.05,"y":1.07},{"x":-0.01,"y":0.86},{"x":-0.04,"y":0.66},{"x":-0.03,"y":0.47},{"x":0.00,"y":0.29},{"x":-0.04,"y":0.12},{"x":-0.01,"y":-0.04},{"x":-0.06,"y":-0.19},{"x":-0.02,"y":-0.33},{"x":-0.03,"y":-0.47},{"x":-0.01,"y":-0.61},{"x":-0.05,"y":-0.76},{"x":-0.02,"y":-0.90},{"x":-0.04,"y":-1.05},{"x":-0.03,"y":-1.21},
      {"x":0.01,"y":1.41},{"x":0.02,"y":1.14},{"x":0.05,"y":0.93},{"x":0.01,"y":0.72},{"x":0.04,"y":0.53},{"x":-0.01,"y":0.36},{"x":0.03,"y":0.18},{"x":0.02,"y":0.02},{"x":0.04,"y":-0.12},{"x":0.00,"y":-0.27},{"x":0.03,"y":-0.41},{"x":0.01,"y":-0.55},{"x":0.02,"y":-0.69},{"x":0.04,"y":-0.84},{"x":0.03,"y":-0.99},{"x":0.00,"y":-1.15},
      {"x":0.06,"y":1.27},{"x":0.09,"y":1.02},{"x":0.04,"y":0.81},{"x":0.08,"y":0.62},{"x":0.07,"y":0.44},{"x":0.09,"y":0.26},{"x":0.05,"y":0.09},{"x":0.08,"y":-0.06},{"x":0.06,"y":-0.21},{"x":0.07,"y":-0.35},{"x":0.09,"y":-0.49},{"x":0.08,"y":-0.63},{"x":0.05,"y":-0.78},{"x":0.09,"y":-0.92},{"x":0.06,"y":-1.07},{"x":0.07,"y":-1.23},
      {"x":0.13,"y":1.37},{"x":0.10,"y":1.11},{"x":0.14,"y":0.90},{"x":0.11,"y":0.70},{"x":0.12,"y":0.51},{"x":0.15,"y":0.33},{"x":0.11,"y":0.16},{"x":0.14,"y":0.00},{"x":0.09,"y":-0.15},{"x":0.13,"y":-0.29},{"x":0.12,"y":-0.43},{"x":0.14,"y":-0.57},{"x":0.10,"y":-0.71},{"x":0.13,"y":-0.86},{"x":0.11,"y":-1.01},{"x":0.12,"y":-1.17},
      {"x":0.16,"y":1.23},{"x":0.17,"y":0.98},{"x":0.20,"y":0.77},{"x":0.16,"y":0.57},{"x":0.19,"y":0.39},{"x":0.14,"y":0.21},{"x":0.18,"y":0.04},{"x":0.17,"y":-0.11},{"x":0.19,"y":-0.26},{"x":0.15,"y":-0.40},{"x":0.18,"y":-0.54},{"x":0.16,"y":-0.68},{"x":0.17,"y":-0.83},{"x":0.19,"y":-0.97},{"x":0.18,"y":-1.13},
      {"x":0.21,"y":1.34},{"x":0.24,"y":1.08},{"x":0.19,"y":0.87},{"x":0.23,"y":0.68},{"x":0.22,"y":0.49},{"x":0.24,"y":0.31},{"x":0.20,"y":0.14},{"x":0.23,"y":-0.03},{"x":0.21,"y":-0.18},{"x":0.22,"y":-0.32},{"x":0.24,"y":-0.46},{"x":0.23,"y":-0.60},{"x":0.20,"y":-0.75},{"x":0.24,"y":-0.89},{"x":0.21,"y":-1.04},{"x":0.22,"y":-1.20},
      {"x":0.28,"y":1.42},{"x":0.25,"y":1.16},{"x":0.29,"y":0.94},{"x":0.26,"y":0.73},{"x":0.27,"y":0.54},{"x":0.30,"y":0.37},{"x":0.26,"y":0.19},{"x":0.29,"y":0.03},{"x":0.24,"y":-0.12},{"x":0.28,"y":-0.26},{"x":0.27,"y":-0.40},{"x":0.29,"y":-0.55},{"x":0.25,"y":-0.69},{"x":0.28,"y":-0.84},{"x":0.26,"y":-1.00},
      {"x":0.31,"y":1.28},{"x":0.32,"y":1.04},{"x":0.35,"y":0.83},{"x":0.31,"y":0.64},{"x":0.34,"y":0.45},{"x":0.29,"y":0.27},{"x":0.33,"y":0.10},{"x":0.32,"y":-0.05},{"x":0.34,"y":-0.20},{"x":0.30,"y":-0.34},{"x":0.33,"y":-0.48},{"x":0.31,"y":-0.62},{"x":0.32,"y":-0.77},{"x":0.34,"y":-0.91},{"x":0.33,"y":-1.06},{"x":0.30,"y":-1.22},
      {"x":0.36,"y":1.35},{"x":0.39,"y":1.12},{"x":0.34,"y":0.91},{"x":0.38,"y":0.71},{"x":0.37,"y":0.52},{"x":0.39,"y":0.34},{"x":0.35,"y":0.17},{"x":0.38,"y":0.01},{"x":0.36,"y":-0.14},{"x":0.37,"y":-0.28},{"x":0.39,"y":-0.42},{"x":0.38,"y":-0.56},{"x":0.35,"y":-0.70},{"x":0.39,"y":-0.85},{"x":0.36,"y":-1.02},
      {"x":0.43,"y":1.24},{"x":0.40,"y":1.00},{"x":0.44,"y":0.80},{"x":0.41,"y":0.60},{"x":0.42,"y":0.42},{"x":0.45,"y":0.24},{"x":0.41,"y":0.07},{"x":0.44,"y":-0.08},{"x":0.39,"y":-0.23},{"x":0.43,"y":-0.37},{"x":0.42,"y":-0.51},{"x":0.44,"y":-0.65},{"x":0.40,"y":-0.80},{"x":0.43,"y":-0.94},{"x":0.41,"y":-1.09},{"x":0.42,"y":-1.25},
      {"x":0.46,"y":1.39},{"x":0.47,"y":1.13},{"x":0.50,"y":0.92},{"x":0.46,"y":0.72},{"x":0.49,"y":0.53},{"x":0.44,"y":0.35},{"x":0.48,"y":0.18},{"x":0.47,"y":0.02},{"x":0.49,"y":-0.13},{"x":0.45,"y":-0.27},{"x":0.48,"y":-0.41},{"x":0.46,"y":-0.56},{"x":0.47,"y":-0.70},{"x":0.49,"y":-0.86},{"x":0.48,"y":-1.01},
      {"x":0.51,"y":1.30},{"x":0.54,"y":1.06},{"x":0.49,"y":0.85},{"x":0.53,"y":0.65},{"x":0.52,"y":0.46},{"x":0.54,"y":0.28},{"x":0.50,"y":0.11},{"x":0.53,"y":-0.04},{"x":0.51,"y":-0.19},{"x":0.52,"y":-0.33},{"x":0.54,"y":-0.47},{"x":0.53,"y":-0.61},{"x":0.50,"y":-0.76},{"x":0.54,"y":-0.90},{"x":0.51,"y":-1.06},{"x":0.52,"y":-1.21},
      {"x":0.58,"y":1.36},{"x":0.55,"y":1.10},{"x":0.59,"y":0.89},{"x":0.56,"y":0.69},{"x":0.57,"y":0.50},{"x":0.60,"y":0.32},{"x":0.56,"y":0.15},{"x":0.59,"y":-0.01},{"x":0.54,"y":-0.16},{"x":0.58,"y":-0.30},{"x":0.57,"y":-0.44},{"x":0.59,"y":-0.58},{"x":0.55,"y":-0.73},{"x":0.58,"y":-0.88},{"x":0.56,"y":-1.03},
      {"x":0.61,"y":1.21},{"x":0.62,"y":0.97},{"x":0.65,"y":0.76},{"x":0.61,"y":0.56},{"x":0.64,"y":0.38},{"x":0.59,"y":0.20},{"x":0.63,"y":0.03},{"x":0.62,"y":-0.12},{"x":0.64,"y":-0.27},{"x":0.60,"y":-0.41},{"x":0.63,"y":-0.55},{"x":0.61,"y":-0.69},{"x":0.62,"y":-0.84},{"x":0.64,"y":-0.98},{"x":0.63,"y":-1.14},
      {"x":0.66,"y":1.33},{"x":0.69,"y":1.09},{"x":0.64,"y":0.88},{"x":0.68,"y":0.67},{"x":0.67,"y":0.48},{"x":0.69,"y":0.30},{"x":0.65,"y":0.13},{"x":0.68,"y":-0.02},{"x":0.66,"y":-0.17},{"x":0.67,"y":-0.31},{"x":0.69,"y":-0.45},{"x":0.68,"y":-0.59},{"x":0.65,"y":-0.74},{"x":0.69,"y":-0.89},{"x":0.66,"y":-1.05},{"x":0.67,"y":-1.20},
      {"x":0.73,"y":1.26},{"x":0.70,"y":1.01},{"x":0.74,"y":0.80},{"x":0.71,"y":0.61},{"x":0.72,"y":0.43},{"x":0.75,"y":0.25},{"x":0.71,"y":0.08},{"x":0.74,"y":-0.07},{"x":0.69,"y":-0.22},{"x":0.73,"y":-0.36},{"x":0.72,"y":-0.50},{"x":0.74,"y":-0.64},{"x":0.70,"y":-0.79},{"x":0.73,"y":-0.93},{"x":0.71,"y":-1.09},
      {"x":0.76,"y":1.38},{"x":0.77,"y":1.12},{"x":0.80,"y":0.90},{"x":0.76,"y":0.70},{"x":0.79,"y":0.51},{"x":0.74,"y":0.33},{"x":0.78,"y":0.16},{"x":0.77,"y":0.00},{"x":0.79,"y":-0.15},{"x":0.75,"y":-0.29},{"x":0.78,"y":-0.43},{"x":0.76,"y":-0.57},{"x":0.77,"y":-0.72},{"x":0.79,"y":-0.87},{"x":0.78,"y":-1.02},{"x":0.75,"y":-1.18},
      {"x":0.81,"y":1.22},{"x":0.84,"y":0.98},{"x":0.79,"y":0.78},{"x":0.83,"y":0.58},{"x":0.82,"y":0.40},{"x":0.84,"y":0.22},{"x":0.80,"y":0.05},{"x":0.83,"y":-0.10},{"x":0.81,"y":-0.25},{"x":0.82,"y":-0.39},{"x":0.84,"y":-0.53},{"x":0.83,"y":-0.67},{"x":0.80,"y":-0.82},{"x":0.84,"y":-0.97},{"x":0.81,"y":-1.12},
      {"x":0.88,"y":1.30},{"x":0.85,"y":1.05},{"x":0.89,"y":0.84},{"x":0.86,"y":0.64},{"x":0.87,"y":0.45},{"x":0.90,"y":0.27},{"x":0.86,"y":0.10},{"x":0.89,"y":-0.05},{"x":0.84,"y":-0.20},{"x":0.88,"y":-0.34},{"x":0.87,"y":-0.48},{"x":0.89,"y":-0.62},{"x":0.85,"y":-0.77},{"x":0.88,"y":-0.92},{"x":0.86,"y":-1.08},{"x":0.87,"y":-1.24},
      {"x":0.91,"y":1.18},{"x":0.92,"y":0.94},{"x":0.95,"y":0.74},{"x":0.91,"y":0.55},{"x":0.94,"y":0.37},{"x":0.89,"y":0.19},{"x":0.93,"y":0.02},{"x":0.92,"y":-0.13},{"x":0.94,"y":-0.28},{"x":0.90,"y":-0.42},{"x":0.93,"y":-0.56},{"x":0.91,"y":-0.70},{"x":0.92,"y":-0.86},{"x":0.94,"y":-1.00},{"x":0.93,"y":-1.16},
      {"x":0.96,"y":0.70},{"x":0.98,"y":0.45},{"x":0.97,"y":0.20},{"x":0.96,"y":-0.05},{"x":0.98,"y":-0.30},{"x":0.97,"y":-0.60},

      {"x":-0.75,"y":0.88},{"x":-0.77,"y":0.61},{"x":-0.74,"y":0.36},{"x":-0.76,"y":0.16},{"x":-0.75,"y":-0.03},{"x":-0.73,"y":-0.21},{"x":-0.77,"y":-0.37},{"x":-0.74,"y":-0.53},{"x":-0.76,"y":-0.67},{"x":-0.75,"y":-0.81},{"x":-0.77,"y":-0.95},{"x":-0.74,"y":-1.10},
      {"x":-0.66,"y":0.79},{"x":-0.64,"y":0.55},{"x":-0.67,"y":0.30},{"x":-0.65,"y":0.10},{"x":-0.63,"y":-0.09},{"x":-0.66,"y":-0.26},{"x":-0.64,"y":-0.42},{"x":-0.67,"y":-0.57},{"x":-0.65,"y":-0.71},{"x":-0.66,"y":-0.85},{"x":-0.64,"y":-1.00},
      {"x":-0.55,"y":0.84},{"x":-0.57,"y":0.57},{"x":-0.54,"y":0.32},{"x":-0.56,"y":0.12},{"x":-0.55,"y":-0.07},{"x":-0.53,"y":-0.25},{"x":-0.57,"y":-0.41},{"x":-0.54,"y":-0.57},{"x":-0.56,"y":-0.71},{"x":-0.55,"y":-0.85},{"x":-0.57,"y":-0.99},{"x":-0.54,"y":-1.14},
      {"x":-0.46,"y":0.81},{"x":-0.44,"y":0.57},{"x":-0.47,"y":0.32},{"x":-0.45,"y":0.12},{"x":-0.43,"y":-0.07},{"x":-0.46,"y":-0.24},{"x":-0.44,"y":-0.40},{"x":-0.47,"y":-0.55},{"x":-0.45,"y":-0.69},{"x":-0.46,"y":-0.83},{"x":-0.44,"y":-0.98},
      {"x":-0.35,"y":0.86},{"x":-0.37,"y":0.59},{"x":-0.34,"y":0.34},{"x":-0.36,"y":0.14},{"x":-0.35,"y":-0.05},{"x":-0.33,"y":-0.23},{"x":-0.37,"y":-0.39},{"x":-0.34,"y":-0.55},{"x":-0.36,"y":-0.69},{"x":-0.35,"y":-0.83},{"x":-0.37,"y":-0.97},{"x":-0.34,"y":-1.12},
      {"x":-0.26,"y":0.80},{"x":-0.24,"y":0.56},{"x":-0.27,"y":0.31},{"x":-0.25,"y":0.11},{"x":-0.23,"y":-0.08},{"x":-0.26,"y":-0.25},{"x":-0.24,"y":-0.41},{"x":-0.27,"y":-0.56},{"x":-0.25,"y":-0.70},{"x":-0.26,"y":-0.84},{"x":-0.24,"y":-0.99},
      {"x":-0.15,"y":0.83},{"x":-0.17,"y":0.56},{"x":-0.14,"y":0.31},{"x":-0.16,"y":0.11},{"x":-0.15,"y":-0.08},{"x":-0.13,"y":-0.26},{"x":-0.17,"y":-0.42},{"x":-0.14,"y":-0.58},{"x":-0.16,"y":-0.72},{"x":-0.15,"y":-0.86},{"x":-0.17,"y":-1.00},{"x":-0.14,"y":-1.15},
      {"x":-0.06,"y":0.78},{"x":-0.04,"y":0.54},{"x":-0.07,"y":0.29},{"x":-0.05,"y":0.09},{"x":-0.03,"y":-0.10},{"x":-0.06,"y":-0.27},{"x":-0.04,"y":-0.43},{"x":-0.07,"y":-0.58},{"x":-0.05,"y":-0.72},{"x":-0.06,"y":-0.86},{"x":-0.04,"y":-1.01},
      {"x":0.05,"y":0.85},{"x":0.03,"y":0.58},{"x":0.06,"y":0.33},{"x":0.04,"y":0.13},{"x":0.05,"y":-0.06},{"x":0.07,"y":-0.24},{"x":0.03,"y":-0.40},{"x":0.06,"y":-0.56},{"x":0.04,"y":-0.70},{"x":0.05,"y":-0.84},{"x":0.03,"y":-0.98},{"x":0.06,"y":-1.13},
      {"x":0.14,"y":0.82},{"x":0.16,"y":0.58},{"x":0.13,"y":0.33},{"x":0.15,"y":0.13},{"x":0.17,"y":-0.06},{"x":0.14,"y":-0.23},{"x":0.16,"y":-0.39},{"x":0.13,"y":-0.54},{"x":0.15,"y":-0.68},{"x":0.14,"y":-0.82},{"x":0.16,"y":-0.97},
      {"x":0.25,"y":0.87},{"x":0.23,"y":0.60},{"x":0.26,"y":0.35},{"x":0.24,"y":0.15},{"x":0.25,"y":-0.04},{"x":0.27,"y":-0.22},{"x":0.23,"y":-0.38},{"x":0.26,"y":-0.54},{"x":0.24,"y":-0.68},{"x":0.25,"y":-0.82},{"x":0.23,"y":-0.96},{"x":0.26,"y":-1.11},
      {"x":0.34,"y":0.79},{"x":0.36,"y":0.55},{"x":0.33,"y":0.30},{"x":0.35,"y":0.10},{"x":0.37,"y":-0.09},{"x":0.34,"y":-0.26},{"x":0.36,"y":-0.42},{"x":0.33,"y":-0.57},{"x":0.35,"y":-0.71},{"x":0.34,"y":-0.85},{"x":0.36,"y":-1.00},
      {"x":0.45,"y":0.82},{"x":0.43,"y":0.55},{"x":0.46,"y":0.30},{"x":0.44,"y":0.10},{"x":0.45,"y":-0.09},{"x":0.47,"y":-0.27},{"x":0.43,"y":-0.43},{"x":0.46,"y":-0.59},{"x":0.44,"y":-0.73},{"x":0.45,"y":-0.87},{"x":0.43,"y":-1.01},{"x":0.46,"y":-1.16},
      {"x":0.54,"y":0.77},{"x":0.56,"y":0.53},{"x":0.53,"y":0.28},{"x":0.55,"y":0.08},{"x":0.57,"y":-0.11},{"x":0.54,"y":-0.28},{"x":0.56,"y":-0.44},{"x":0.53,"y":-0.59},{"x":0.55,"y":-0.73},{"x":0.54,"y":-0.87},{"x":0.56,"y":-1.02},
      {"x":0.65,"y":0.93},{"x":0.63,"y":0.66},{"x":0.66,"y":0.41},{"x":0.64,"y":0.21},{"x":0.65,"y":0.02},{"x":0.67,"y":-0.16},{"x":0.63,"y":-0.32},{"x":0.66,"y":-0.48},{"x":0.64,"y":-0.62},{"x":0.65,"y":-0.76},{"x":0.63,"y":-0.90},{"x":0.66,"y":-1.05},
      {"x":0.74,"y":0.73},{"x":0.76,"y":0.49},{"x":0.73,"y":0.24},{"x":0.75,"y":0.04},{"x":0.77,"y":-0.15},{"x":0.74,"y":-0.32},{"x":0.76,"y":-0.48},{"x":0.73,"y":-0.63},{"x":0.75,"y":-0.77},{"x":0.74,"y":-0.91},{"x":0.76,"y":-1.06},
      {"x":0.85,"y":0.90},{"x":0.83,"y":0.63},{"x":0.86,"y":0.38},{"x":0.84,"y":0.18},{"x":0.85,"y":-0.01},{"x":0.87,"y":-0.19},{"x":0.83,"y":-0.35},{"x":0.86,"y":-0.51},{"x":0.84,"y":-0.65},{"x":0.85,"y":-0.79},{"x":0.83,"y":-0.93},{"x":0.86,"y":-1.08},
      {"x":0.94,"y":0.72},{"x":0.96,"y":0.48},{"x":0.93,"y":0.23},{"x":0.95,"y":0.03},{"x":0.97,"y":-0.16},{"x":0.94,"y":-0.33},{"x":0.96,"y":-0.49},{"x":0.93,"y":-0.64},{"x":0.95,"y":-0.78},{"x":0.94,"y":-0.92},{"x":0.96,"y":-1.07},

      {"x":-0.70,"y":0.50},{"x":-0.71,"y":0.21},{"x":-0.69,"y":-0.06},{"x":-0.72,"y":-0.33},{"x":-0.70,"y":-0.59},{"x":-0.68,"y":-0.84},{"x":-0.71,"y":-1.13},
      {"x":-0.60,"y":0.40},{"x":-0.61,"y":0.12},{"x":-0.59,"y":-0.16},{"x":-0.62,"y":-0.44},{"x":-0.60,"y":-0.68},{"x":-0.58,"y":-0.93},{"x":-0.61,"y":0.66},
      {"x":-0.50,"y":0.53},{"x":-0.51,"y":0.25},{"x":-0.49,"y":-0.02},{"x":-0.52,"y":-0.29},{"x":-0.50,"y":-0.50},{"x":-0.48,"y":-0.77},{"x":-0.51,"y":-1.04},
      {"x":-0.40,"y":0.36},{"x":-0.41,"y":0.08},{"x":-0.39,"y":-0.18},{"x":-0.42,"y":-0.45},{"x":-0.40,"y":-0.63},{"x":-0.38,"y":-0.89},{"x":-0.41,"y":-1.09},
      {"x":-0.30,"y":0.45},{"x":-0.31,"y":0.22},{"x":-0.29,"y":-0.08},{"x":-0.32,"y":-0.35},{"x":-0.30,"y":-0.61},{"x":-0.28,"y":-0.80},{"x":-0.31,"y":-1.06},
      {"x":-0.20,"y":0.39},{"x":-0.21,"y":0.06},{"x":-0.19,"y":-0.19},{"x":-0.22,"y":-0.47},{"x":-0.20,"y":-0.66},{"x":-0.18,"y":-0.91},{"x":-0.21,"y":0.62},
      {"x":-0.10,"y":0.52},{"x":-0.11,"y":0.27},{"x":-0.09,"y":-0.04},{"x":-0.12,"y":-0.31},{"x":-0.10,"y":-0.55},{"x":-0.08,"y":-0.78},{"x":-0.11,"y":-1.03},
      {"x":0.00,"y":0.41},{"x":-0.01,"y":0.10},{"x":0.01,"y":-0.14},{"x":-0.02,"y":-0.40},{"x":0.00,"y":-0.64},{"x":0.02,"y":-0.88},{"x":-0.01,"y":-1.10},
      {"x":0.10,"y":0.47},{"x":0.09,"y":0.20},{"x":0.11,"y":-0.09},{"x":0.08,"y":-0.34},{"x":0.10,"y":-0.59},{"x":0.12,"y":-0.82},{"x":0.09,"y":0.68},
      {"x":0.20,"y":0.37},{"x":0.19,"y":0.07},{"x":0.21,"y":-0.21},{"x":0.18,"y":-0.44},{"x":0.20,"y":-0.70},{"x":0.22,"y":-0.93},{"x":0.19,"y":-1.07},
      {"x":0.30,"y":0.55},{"x":0.29,"y":0.24},{"x":0.31,"y":-0.03},{"x":0.28,"y":-0.30},{"x":0.30,"y":-0.52},{"x":0.32,"y":-0.79},{"x":0.29,"y":-1.05},
      {"x":0.40,"y":0.43},{"x":0.39,"y":0.14},{"x":0.41,"y":-0.17},{"x":0.38,"y":-0.41},{"x":0.40,"y":-0.62},{"x":0.42,"y":-0.90},{"x":0.39,"y":0.71},
      {"x":0.50,"y":0.60},{"x":0.49,"y":0.33},{"x":0.51,"y":0.04},{"x":0.48,"y":-0.24},{"x":0.50,"y":-0.49},{"x":0.52,"y":-0.75},{"x":0.49,"y":-1.00},
      {"x":0.60,"y":0.49},{"x":0.59,"y":0.17},{"x":0.61,"y":-0.10},{"x":0.58,"y":-0.36},{"x":0.60,"y":-0.60},{"x":0.62,"y":-0.85},{"x":0.59,"y":0.78},
      {"x":0.70,"y":0.57},{"x":0.69,"y":0.30},{"x":0.71,"y":0.01},{"x":0.68,"y":-0.26},{"x":0.70,"y":-0.54},{"x":0.72,"y":-0.81},{"x":0.69,"y":-1.04},
      {"x":0.80,"y":0.44},{"x":0.79,"y":0.13},{"x":0.81,"y":-0.13},{"x":0.78,"y":-0.39},{"x":0.80,"y":-0.66},{"x":0.82,"y":-0.89},{"x":0.79,"y":0.69}
    ],
    "band": [
      {"x":-3.16,"y":-0.095,"y2":0.092},{"x":-2.5,"y":-0.075,"y2":0.073},{"x":-2.0,"y":-0.058,"y2":0.057},{"x":-1.5,"y":-0.044,"y2":0.043},
      {"x":-1.0,"y":-0.032,"y2":0.032},{"x":-0.5,"y":-0.025,"y2":0.025},{"x":0.0,"y":-0.022,"y2":0.022},{"x":0.5,"y":-0.025,"y2":0.025},
      {"x":1.0,"y":-0.033,"y2":0.033},{"x":1.5,"y":-0.045,"y2":0.045},{"x":2.0,"y":-0.06,"y2":0.06},{"x":2.37,"y":-0.073,"y2":0.073}
    ],
    "fit": [
      {"x":-3.16,"y":0.0},{"x":2.37,"y":0.0}
    ]
  },
  "encoding": {
    "x": {
      "field": "x",
      "type": "quantitative",
      "scale": {"domain": [-3.44, 2.57], "nice": false, "zero": false},
      "axis": {
        "title": "Mentaal welzijn (gecontroleerd)",
        "values": [-3, -2.5, -2, -1.5, -1, -0.5, 0, 0.5, 1, 1.5, 2, 2.5],
        "labelExpr": "datum.value % 1 === 0 ? '' + datum.value : ''",
        "gridWidth": {"condition": {"test": "datum.value % 1 !== 0", "value": 0.7}, "value": 1.1},
        "labelPadding": 8,
        "titlePadding": 3,
        "titleX": 579
      }
    },
    "y": {
      "field": "y",
      "type": "quantitative",
      "scale": {"domain": [-3.34, 3.5], "nice": false, "zero": false},
      "axis": {
        "title": "KDH (gecontroleerd)",
        "values": [-3, -2, -1, 0, 1, 2, 3],
        "labelExpr": "datum.value % 2 === 0 ? '' + datum.value : ''",
        "gridWidth": {"condition": {"test": "datum.value % 2 !== 0", "value": 0.7}, "value": 1.1},
        "labelPadding": 9,
        "titlePadding": 4
      }
    }
  },
  "layer": [
    {
      "data": {"name": "pts"},
      "mark": {"type": "circle", "size": 50, "color": "black", "opacity": 0.64}
    },
    {
      "data": {"name": "band"},
      "mark": {"type": "area", "color": "#999999", "opacity": 0.4},
      "encoding": {"y2": {"field": "y2"}}
    },
    {
      "data": {"name": "fit"},
      "mark": {"type": "line", "color": "#0000FF", "strokeWidth": 3.5},
      "encoding": {}
    }
  ]
}
